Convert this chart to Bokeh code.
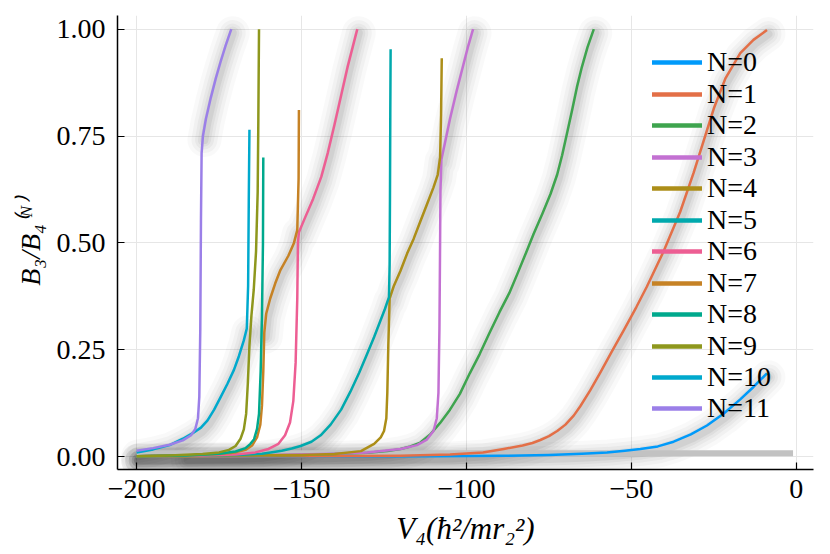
from bokeh.plotting import figure
from bokeh.models import Range1d, FixedTicker, Legend, LegendItem
from bokeh.embed import file_html
from bokeh.resources import INLINE

labels = [f"N={i}" for i in range(12)]
colors = ["#009AFA", "#E36F47", "#3EA44E", "#C371D2", "#AC8E18", "#00A9AD",
          "#ED5E93", "#C68225", "#00A98D", "#8E971D", "#00A9CD", "#9B7FE8"]

x0 = [-200, -150, -110, -90, -75, -65, -57.4, -52, -47.3, -42, -37.2, -32, -27.1, -22, -17, -13, -8.9]
y0 = [0.0, 0.0005, 0.001, 0.002, 0.004, 0.007, 0.010, 0.014, 0.018, 0.024, 0.035, 0.052, 0.073, 0.101, 0.134, 0.163, 0.195]

x1 = [-200, -150, -120, -105, -95, -88.7, -83, -80, -77.6, -75, -72.5, -70, -67.5, -65.5, -62.5, -59.4, -56, -52.3,
      -48.5, -45.3, -40.2, -35.2, -31.1, -27.1, -25, -21.5, -17, -13, -8.9]
y1 = [0.0, 0.001, 0.002, 0.005, 0.010, 0.018, 0.026, 0.032, 0.039, 0.048, 0.060, 0.075, 0.096, 0.118, 0.155, 0.197, 0.245, 0.296,
      0.350, 0.398, 0.481, 0.573, 0.665, 0.763, 0.815, 0.885, 0.944, 0.975, 0.998]

x2 = [-200, -170, -150, -140, -130, -124, -120, -117, -114, -111, -108, -105, -102, -99, -96, -93, -90, -87,
      -84.6, -82, -79.6, -77, -74.5, -72.5, -71, -69.5, -68, -66.5, -65, -63.3, -61.4]
y2 = [0.001, 0.002, 0.004, 0.006, 0.009, 0.013, 0.018, 0.024, 0.033, 0.052, 0.079, 0.11, 0.147, 0.195, 0.24, 0.29,
      0.338, 0.383, 0.427, 0.476, 0.522, 0.568, 0.615, 0.66, 0.705, 0.757, 0.81, 0.865, 0.912, 0.958, 1.0]

x3 = [-200, -160, -140, -130, -120, -115, -112, -110, -109, -108.5, -108.2, -108.0, -107.9, -107.6, -106.5, -105,
      -103, -101, -99.5, -98]
y3 = [0.001, 0.004, 0.007, 0.010, 0.018, 0.027, 0.040, 0.060, 0.09, 0.15, 0.3, 0.5, 0.62, 0.695, 0.735, 0.79,
      0.855, 0.915, 0.96, 1.0]

x4 = [-200, -170, -150, -140, -132, -128, -126, -125, -124.3, -124, -123.7, -123.3, -122, -120, -118, -116, -114,
      -112, -110, -108.7, -108, -107.7, -107.5]
y4 = [0.001, 0.003, 0.004, 0.006, 0.013, 0.030, 0.045, 0.06, 0.09, 0.15, 0.26, 0.37, 0.40, 0.435, 0.475, 0.51, 0.55,
      0.59, 0.63, 0.66, 0.70, 0.80, 0.932]

x5 = [-200, -185, -170, -162, -159.4, -156, -153, -150.3, -147, -144.2, -141.2, -138, -135.2, -132.5, -130.1, -128,
      -126.1, -124.7, -123.5, -123.3, -123.2, -123.1, -123]
y5 = [0.001, 0.002, 0.004, 0.007, 0.010, 0.014, 0.019, 0.025, 0.035, 0.050, 0.075, 0.11, 0.152, 0.197, 0.241, 0.28,
      0.318, 0.346, 0.373, 0.45, 0.6, 0.8, 0.953]

x6 = [-200, -180, -170, -164, -160, -157, -155, -153.5, -152.5, -151.8, -151.3, -151.1, -150.8, -149, -146.5, -144,
      -142, -140, -138, -136, -134.5, -133.1]
y6 = [0.001, 0.003, 0.005, 0.010, 0.018, 0.030, 0.050, 0.08, 0.13, 0.22, 0.37, 0.50, 0.525, 0.558, 0.603, 0.655,
      0.712, 0.777, 0.845, 0.913, 0.958, 1.0]

x7 = [-200, -185, -175, -170, -167, -165, -163.5, -162.5, -162, -161.6, -161.3, -160.7, -159.5, -158, -156.5, -154,
      -152.3, -151.3, -150.9, -150.8]
y7 = [0.001, 0.003, 0.006, 0.010, 0.016, 0.026, 0.045, 0.075, 0.12, 0.2, 0.29, 0.335, 0.37, 0.405, 0.435, 0.47,
      0.50, 0.53, 0.65, 0.811]

x8 = [-200, -185, -175, -170, -167, -165.5, -164.4, -163.5, -162.9, -162.4, -162, -161.7, -161.6]
y8 = [0.001, 0.003, 0.007, 0.012, 0.020, 0.030, 0.041, 0.065, 0.10, 0.2, 0.33, 0.5, 0.70]

x9 = [-200, -190, -180, -175, -172, -170, -168.5, -167.5, -166.8, -166.3, -165.8, -165.2, -164.5, -163.8, -163.3,
      -163.1, -162.9]
y9 = [0.001, 0.003, 0.006, 0.010, 0.016, 0.025, 0.042, 0.064, 0.10, 0.17, 0.26, 0.33, 0.39, 0.48, 0.62,
      0.79, 1.0]

x10 = [-200, -195, -190, -186, -183, -180.5, -178.5, -176.5, -174.5, -172.5, -170.5, -169, -167.5, -166.6, -166.2,
       -166, -165.8]
y10 = [0.010, 0.017, 0.027, 0.042, 0.055, 0.068, 0.085, 0.11, 0.14, 0.17, 0.203, 0.235, 0.272, 0.30, 0.40,
       0.6, 0.765]

x11 = [-200, -195, -190, -186, -183.5, -182.2, -181.4, -181, -180.7, -180.5, -180.3, -179.9, -179, -177.5, -176,
       -174.5, -173, -171.3]
y11 = [0.014, 0.020, 0.028, 0.038, 0.050, 0.065, 0.09, 0.14, 0.30, 0.55, 0.71, 0.75, 0.79, 0.84, 0.885,
       0.925, 0.962, 1.0]

xs = [x0, x1, x2, x3, x4, x5, x6, x7, x8, x9, x10, x11]
ys = [y0, y1, y2, y3, y4, y5, y6, y7, y8, y9, y10, y11]

# halo chains: pieces (series index, start, stop) joined into one continuous halo path
shadow_chains = [
    [(0, 0, 17)],
    [(1, 0, 29)],
    [(2, 0, 31)],
    [(5, 1, 19), (4, 11, 21), (3, 13, 20)],
    [(7, 10, 18), (6, 12, 22)],
    [(10, 0, 14)],
    [(11, 11, 18)],
]

band_x = [-200, -1]
band_y = [0.008, 0.008]

xticks = [-200, -150, -100, -50, 0]
xtick_labels = ["\u2212200", "\u2212150", "\u2212100", "\u221250", "0"]
yticks = [0.0, 0.25, 0.5, 0.75, 1.0]
ytick_labels = ["0.00", "0.25", "0.50", "0.75", "1.00"]

FONT = "Liberation Serif"
X0, X1 = -205.8, 5.2
Y0, Y1 = -0.030, 1.032

p = figure(width=825, height=548, output_backend="svg", toolbar_location=None,
           x_range=Range1d(X0, X1), y_range=Range1d(Y0, Y1),
           min_border_left=117, min_border_right=12, min_border_top=15, min_border_bottom=74)
p.outline_line_color = None
p.background_fill_color = "white"
p.border_fill_color = "white"

# shifted ranges so the halo falls slightly below/right of each curve
dy = 4.0 / 432.0
dx = 1.5 / 3.3
p.extra_y_ranges = {"sh": Range1d(Y0 + dy, Y1 + dy)}
p.extra_x_ranges = {"sh": Range1d(X0 - dx, X1 - dx)}

p.grid.grid_line_color = "#e6e6e6"
p.grid.grid_line_width = 1
p.xgrid.ticker = FixedTicker(ticks=xticks)
p.ygrid.ticker = FixedTicker(ticks=yticks)

sx, sy = [], []
for chain in shadow_chains:
    cx, cy = [], []
    for k, a, b in chain:
        cx += xs[k][a:b]
        cy += ys[k][a:b]
    sx.append(cx)
    sy.append(cy)
for w, a in [(34, 0.025), (26, 0.03), (19, 0.035), (13, 0.045), (8, 0.055)]:
    p.multi_line(sx, sy, line_width=w, line_color="black", line_alpha=a,
                 line_join="round", line_cap="round", x_range_name="sh", y_range_name="sh")

p.line(band_x, band_y, line_width=6, line_color="#c2c2c2")

for xv, yv, c in zip(xs, ys, colors):
    p.line(xv, yv, line_width=2.5, line_color=c, line_join="round")

# one single-entry legend per row for exact row pitch
LEG_FS = 28
ROW0, PITCH = 62.7, 31.45
HALF = 23.0 * LEG_FS / 31.0
for i, (xv, yv, lab, c) in enumerate(zip(xs, ys, labels, colors)):
    r = p.line(x=xv[:1], y=yv[:1], line_width=4.5, line_color=c, line_cap="round")
    yloc = 474 - (ROW0 + PITCH * i + HALF)
    leg = Legend(items=[LegendItem(label=lab, renderers=[r])], location=(535, round(yloc)),
                 padding=0, margin=0, spacing=0,
                 glyph_width=50, glyph_height=28, label_height=28, label_standoff=5,
                 background_fill_alpha=0, border_line_alpha=0,
                 label_text_font=FONT, label_text_font_size=f"{LEG_FS}px", label_text_color="black")
    p.add_layout(leg, "center")

p.xaxis.ticker = FixedTicker(ticks=xticks)
p.xaxis.major_label_overrides = dict(zip(xticks, xtick_labels))
p.yaxis.ticker = FixedTicker(ticks=yticks)
p.yaxis.major_label_overrides = dict(zip(yticks, ytick_labels))

for ax in (p.xaxis[0], p.yaxis[0]):
    ax.axis_line_width = 1.5
    ax.axis_line_color = "black"
    ax.major_tick_in = 7
    ax.major_tick_out = 0
    ax.major_tick_line_width = 1.2
    ax.minor_tick_line_color = None
    ax.major_label_text_font = FONT
    ax.major_label_text_font_size = "28px"
    ax.major_label_text_color = "black"
    ax.axis_label_text_font = FONT
    ax.axis_label_text_font_style = "italic"
    ax.axis_label_text_color = "black"

p.xaxis.axis_label_text_font_size = "31px"
p.yaxis.axis_label_text_font_size = "28px"
p.xaxis.major_label_standoff = 10
p.yaxis.major_label_standoff = 12
p.xaxis.axis_label = "V\u2084(\u0127\u00b2/mr\u2082\u00b2)"
p.yaxis.axis_label = "B\u2083/B\u2084\u207d\u1d3a\u207e"
p.xaxis.axis_label_standoff = 10
p.yaxis.axis_label_standoff = 8

open("out.html", "w").write(file_html(p, INLINE))
